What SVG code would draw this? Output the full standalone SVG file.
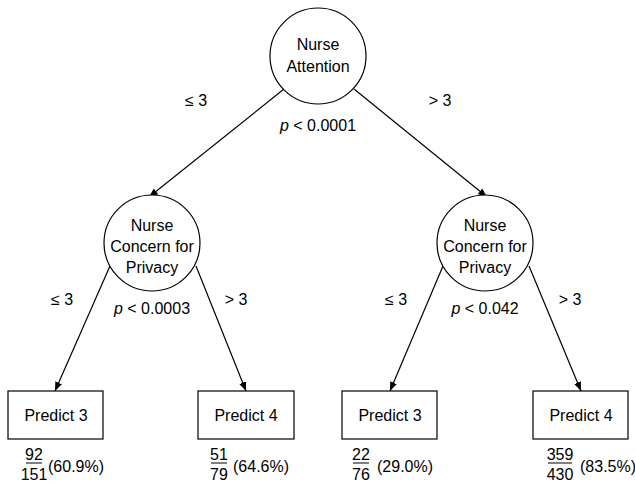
<svg xmlns="http://www.w3.org/2000/svg" width="635" height="487" viewBox="0 0 635 487">
<style>
text{font-family:"Liberation Sans",Arial,sans-serif;font-size:16px;fill:#000;text-anchor:middle}
.n{fill:#fff;stroke:#000;stroke-width:1.2}
.e{stroke:#000;stroke-width:1.2;fill:none;marker-end:url(#a)}
.l{text-anchor:start}
</style>
<defs>
<marker id="a" viewBox="0 0 10 10" refX="10" refY="5" markerWidth="9" markerHeight="9" markerUnits="userSpaceOnUse" orient="auto">
<path d="M0,1 L10,5 L0,9 Z" fill="#000"/>
</marker>
</defs>
<rect width="635" height="487" fill="#fff"/>
<g id="connectors">
<line class="e" x1="284" y1="89" x2="149" y2="197"/>
<line class="e" x1="354" y1="89" x2="487" y2="197"/>
<line class="e" x1="110" y1="266" x2="55" y2="391"/>
<line class="e" x1="196" y1="266" x2="246" y2="391"/>
<line class="e" x1="443" y1="266" x2="390" y2="391"/>
<line class="e" x1="529" y1="266" x2="581" y2="391"/>
<text x="196" y="106">≤ 3</text>
<text x="440" y="106">&gt; 3</text>
<text x="62" y="305">≤ 3</text>
<text x="236" y="305">&gt; 3</text>
<text x="396" y="305">≤ 3</text>
<text x="570" y="305">&gt; 3</text>
</g>
<g id="n0">
<circle class="n" cx="318" cy="56" r="48"/>
<text x="318" y="50">Nurse</text>
<text x="318" y="72">Attention</text>
<text x="318" y="131"><tspan font-style="italic">p</tspan> &lt; 0.0001</text>
</g>
<g id="n1">
<circle class="n" cx="152" cy="243" r="48"/>
<text x="152" y="231">Nurse</text>
<text x="152" y="252">Concern for</text>
<text x="152" y="273">Privacy</text>
<text x="152" y="314"><tspan font-style="italic">p</tspan> &lt; 0.0003</text>
</g>
<g id="n2">
<circle class="n" cx="485" cy="243" r="48"/>
<text x="485" y="231">Nurse</text>
<text x="485" y="252">Concern for</text>
<text x="485" y="273">Privacy</text>
<text x="485" y="314"><tspan font-style="italic">p</tspan> &lt; 0.042</text>
</g>
<g id="n3">
<rect class="n" x="8" y="391" width="95" height="48"/>
<text x="56" y="421">Predict 3</text>
<text x="34" y="460">92</text>
<line x1="26" y1="463" x2="42" y2="463" stroke="#000" stroke-width="1"/>
<text x="34" y="480">151</text>
<text class="l" x="48" y="472">(60.9%)</text>
</g>
<g id="n4">
<rect class="n" x="198" y="391" width="96" height="48"/>
<text x="246" y="421">Predict 4</text>
<text x="219" y="460">51</text>
<line x1="211" y1="463" x2="227" y2="463" stroke="#000" stroke-width="1"/>
<text x="219" y="480">79</text>
<text class="l" x="233" y="472">(64.6%)</text>
</g>
<g id="n5">
<rect class="n" x="342" y="391" width="95" height="48"/>
<text x="390" y="421">Predict 3</text>
<text x="361" y="460">22</text>
<line x1="353" y1="463" x2="369" y2="463" stroke="#000" stroke-width="1"/>
<text x="361" y="480">76</text>
<text class="l" x="377" y="472">(29.0%)</text>
</g>
<g id="n6">
<rect class="n" x="533" y="391" width="95" height="48"/>
<text x="581" y="421">Predict 4</text>
<text x="560" y="460">359</text>
<line x1="548" y1="463" x2="572" y2="463" stroke="#000" stroke-width="1"/>
<text x="560" y="480">430</text>
<text class="l" x="580" y="472">(83.5%)</text>
</g>
</svg>
